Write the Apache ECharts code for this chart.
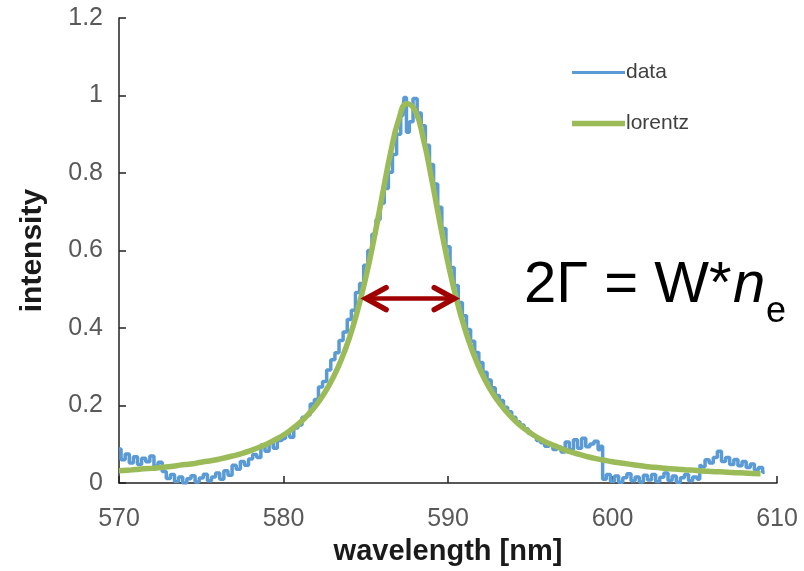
<!DOCTYPE html>
<html>
<head>
<meta charset="utf-8">
<script src="https://cdn.jsdelivr.net/npm/echarts@6/dist/echarts.min.js"></script>
<style>
html,body{margin:0;padding:0;background:#fff;}
#chart{width:804px;height:571px;}
</style>
</head>
<body>
<div id="chart"></div>
<script>
// ---- data ----
const xTicks = [570, 580, 590, 600, 610];
const yTicks = [0, 0.2, 0.4, 0.6, 0.8, 1, 1.2];

// measured spectrum (wavelength nm, intensity)
const dataX = [
570.00,570.25,570.50,570.75,571.00,571.25,571.50,571.75,572.00,572.25,572.50,572.75,
573.00,573.25,573.50,573.75,574.00,574.25,574.50,574.75,575.00,575.25,575.50,575.75,
576.00,576.25,576.50,576.75,577.00,577.25,577.50,577.75,578.00,578.25,578.50,578.75,
579.00,579.25,579.50,579.75,580.00,580.25,580.50,580.75,581.00,581.25,581.50,581.75,
582.00,582.25,582.50,582.75,583.00,583.25,583.50,583.75,584.00,584.25,584.50,584.75,
585.00,585.25,585.50,585.75,586.00,586.25,586.50,586.75,587.00,587.25,587.40,587.55,
587.75,588.00,588.25,588.50,588.75,589.00,589.25,589.50,589.75,590.00,590.25,590.50,
590.75,591.00,591.25,591.50,591.75,592.00,592.25,592.50,592.75,593.00,593.25,593.50,
593.75,594.00,594.25,594.50,594.75,595.00,595.25,595.50,595.75,596.00,596.25,596.50,
596.75,597.00,597.25,597.50,597.75,598.00,598.25,598.50,598.75,599.00,599.25,599.30,
599.50,599.75,600.00,600.25,600.50,600.75,601.00,601.25,601.50,601.75,602.00,602.25,
602.50,602.75,603.00,603.25,603.50,603.75,604.00,604.25,604.50,604.75,605.00,605.30,
605.35,605.50,605.75,606.00,606.25,606.50,606.75,607.00,607.25,607.50,607.75,608.00,
608.25,608.50,608.75,609.00,609.25
];
const dataY = [
0.088,0.060,0.075,0.052,0.068,0.048,0.064,0.055,0.070,0.044,0.054,0.030,
0.012,0.022,0.004,0.016,0.000,0.011,0.019,0.003,0.013,0.023,0.006,0.016,
0.026,0.010,0.032,0.020,0.046,0.036,0.056,0.046,0.062,0.074,0.066,0.098,
0.082,0.104,0.090,0.110,0.115,0.128,0.118,0.142,0.150,0.170,0.176,0.204,
0.216,0.248,0.262,0.292,0.318,0.336,0.368,0.390,0.422,0.446,0.492,0.515,
0.562,0.600,0.642,0.680,0.722,0.760,0.802,0.848,0.900,0.948,0.995,0.905,
0.932,0.992,0.955,0.922,0.872,0.822,0.772,0.712,0.657,0.610,0.556,0.510,
0.466,0.432,0.396,0.366,0.337,0.311,0.286,0.266,0.246,0.226,0.213,0.196,
0.184,0.170,0.158,0.150,0.140,0.128,0.122,0.110,0.104,0.095,0.100,0.087,
0.093,0.080,0.106,0.086,0.112,0.090,0.116,0.094,0.101,0.108,0.086,0.095,
0.010,0.022,0.005,0.018,0.002,0.014,0.024,0.006,0.016,0.003,0.020,0.008,
0.022,0.004,0.015,0.026,0.007,0.018,0.002,0.014,0.022,0.006,0.016,0.010,
0.048,0.042,0.060,0.052,0.066,0.082,0.056,0.066,0.048,0.061,0.045,0.056,
0.040,0.049,0.034,0.040,0.028
];

// fitted Lorentz profile (wavelength nm, intensity)
const fitX = [
570,570.5,571,571.5,572,572.5,573,573.5,574,574.5,575,575.5,576,576.5,577,577.5,
578,578.5,579,579.5,580,580.5,581,581.5,582,582.5,583,583.5,584,584.5,585,585.5,
586,586.5,587,587.5,588,588.5,589,589.5,590,590.5,591,591.5,592,592.5,593,593.5,
594,594.5,595,595.5,596,596.5,597,597.5,598,598.5,599,599.5,600,600.5,601,601.5,
602,602.5,603,603.5,604,604.5,605,605.5,606,606.5,607,607.5,608,608.5,609
];
const fitY = [
0.032,0.033,0.035,0.037,0.038,0.040,0.042,0.045,0.048,0.050,0.054,0.057,0.061,0.066,0.071,0.077,
0.084,0.092,0.101,0.112,0.124,0.139,0.156,0.177,0.202,0.233,0.271,0.317,0.374,0.445,0.530,0.630,
0.741,0.850,0.937,0.979,0.961,0.889,0.786,0.674,0.568,0.477,0.401,0.339,0.288,0.247,0.214,0.187,
0.164,0.145,0.130,0.116,0.105,0.096,0.087,0.080,0.074,0.068,0.063,0.059,0.055,0.052,0.049,0.046,
0.043,0.041,0.039,0.037,0.036,0.034,0.033,0.031,0.030,0.029,0.028,0.027,0.026,0.025,0.024
];

// FWHM arrow end points (wavelength nm) and level
const arrowX = [584.9, 590.5];
const arrowY = 0.476;

const seriesNames = ['data', 'lorentz'];
// -------------------------------------

const pairs = (xs, ys) => xs.map((x, i) => [x, ys[i]]);
const FONT = '"Liberation Sans", "DejaVu Sans", sans-serif';
const BLUE = '#5b9bd5', GREEN = '#9bbb59';
const chart = echarts.init(document.getElementById('chart'), null, {renderer: 'canvas'});

const option = {
  animation: false,
  backgroundColor: '#ffffff',
  grid: {left: 119, right: 27, top: 18, bottom: 87.5, containLabel: false},
  legend: {
    orient: 'vertical',
    left: 567, top: 57,
    itemWidth: 53, itemHeight: 24, itemGap: 30,
    textStyle: {fontFamily: FONT, fontSize: 21, color: '#404040', padding: [0, 0, 0, -4]},
    data: [
      {name: seriesNames[0], icon: 'path://M0,0L53,0L53,3L0,3Z'},
      {name: seriesNames[1], icon: 'path://M0,0L53,0L53,5.5L0,5.5Z'}
    ]
  },
  xAxis: {
    type: 'value', min: xTicks[0], max: xTicks[xTicks.length - 1], interval: 10,
    name: 'wavelength [nm]', nameLocation: 'middle', nameGap: 50,
    nameTextStyle: {fontFamily: FONT, fontSize: 29, fontWeight: 'bold', color: '#1a1a1a'},
    axisLine: {show: true, lineStyle: {color: '#222', width: 1.5}},
    axisTick: {show: true, inside: true, length: 7, lineStyle: {color: '#222', width: 1.5}},
    axisLabel: {fontFamily: FONT, fontSize: 25, color: '#595959', margin: 24},
    splitLine: {show: false}
  },
  yAxis: {
    type: 'value', min: yTicks[0], max: yTicks[yTicks.length - 1], interval: 0.2,
    name: 'intensity', nameLocation: 'middle', nameGap: 71, nameRotate: 90,
    nameTextStyle: {fontFamily: FONT, fontSize: 30, fontWeight: 'bold', color: '#1a1a1a'},
    axisLine: {show: true, lineStyle: {color: '#222', width: 1.5}},
    axisTick: {show: true, inside: true, length: 7, lineStyle: {color: '#222', width: 1.5}},
    axisLabel: {fontFamily: FONT, fontSize: 25, color: '#595959', margin: 16,
      formatter: v => String(Math.round(v * 10) / 10)},
    splitLine: {show: false}
  },
  series: [
    {
      name: seriesNames[0], type: 'line', data: pairs(dataX, dataY),
      symbol: 'none', smooth: false, step: 'middle',
      lineStyle: {color: BLUE, width: 3.5},
      itemStyle: {color: BLUE}, z: 2
    },
    {
      name: seriesNames[1], type: 'line', data: pairs(fitX, fitY),
      symbol: 'none', smooth: true,
      lineStyle: {color: GREEN, width: 5.5},
      itemStyle: {color: GREEN}, z: 3
    }
  ]
};
chart.setOption(option);

// annotation: arrow + formula
const p1 = chart.convertToPixel({gridIndex: 0}, [arrowX[0], arrowY]);
const p2 = chart.convertToPixel({gridIndex: 0}, [arrowX[1], arrowY]);
const RED = '#a00000';
const ax = 22, ay = 11;
chart.setOption({
  graphic: [
    {type: 'line', shape: {x1: p1[0] + 3, y1: p1[1], x2: p2[0] - 3, y2: p2[1]},
     style: {stroke: RED, lineWidth: 4.5}, z: 10},
    {type: 'polyline', shape: {points: [[p1[0] + ax, p1[1] - ay], [p1[0] + 2, p1[1]], [p1[0] + ax, p1[1] + ay]]},
     style: {stroke: RED, lineWidth: 5.5, fill: null, lineJoin: 'miter', lineCap: 'round'}, z: 10},
    {type: 'polyline', shape: {points: [[p2[0] - ax, p2[1] - ay], [p2[0] - 2, p2[1]], [p2[0] - ax, p2[1] + ay]]},
     style: {stroke: RED, lineWidth: 5.5, fill: null, lineJoin: 'miter', lineCap: 'round'}, z: 10},
    {type: 'text', left: 524, top: 257,
     style: {text: '2Γ = W*', font: '58px ' + FONT, fill: '#000'}, z: 10},
    {type: 'text', left: 733, top: 257,
     style: {text: 'n', font: 'italic 58px ' + FONT, fill: '#000'}, z: 10},
    {type: 'text', left: 766, top: 294,
     style: {text: 'e', font: '36px ' + FONT, fill: '#000'}, z: 10}
  ]
});
</script>
</body>
</html>
